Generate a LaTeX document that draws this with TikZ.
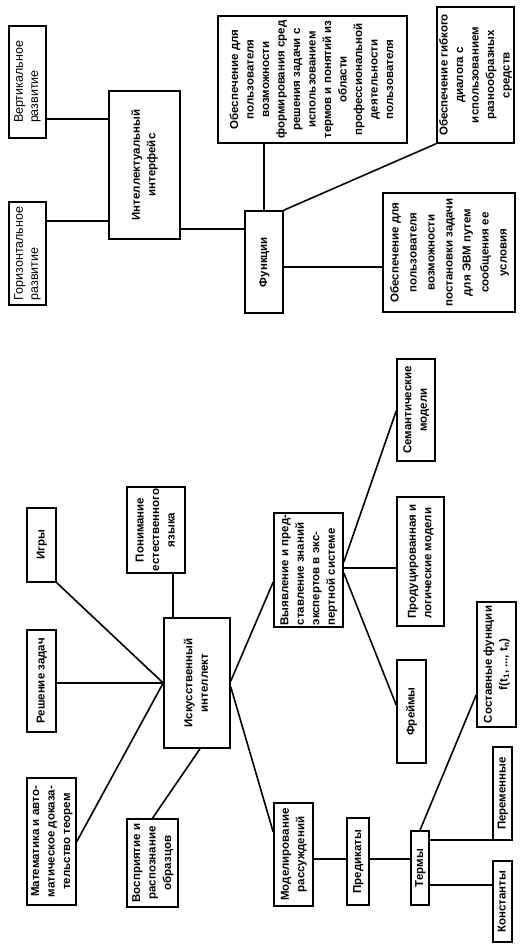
\documentclass[tikz,border=0pt]{standalone}
\usepackage{fontspec}
\setmainfont{Liberation Sans}
\usepackage{graphicx}
\newcommand\rtc[1]{\rotatebox{90}{\begin{tabular}{@{}c@{}}#1\end{tabular}}}
\newcommand\rtl[1]{\rotatebox{90}{\begin{tabular}{@{}l@{}}#1\end{tabular}}}
\tikzset{
  box/.style={draw, line width=1.6pt, inner sep=0pt, rectangle,
    font=\fontsize{11.5}{15.5}\selectfont\bfseries},
  boxn/.style={box, font=\fontsize{12.5}{15}\selectfont},
  boxw/.style={box, font=\fontsize{11.5}{18}\selectfont\bfseries},
  link/.style={line width=1.6pt}
}
\begin{document}
\begin{tikzpicture}[x=1pt,y=1pt]
\useasboundingbox (0,0) rectangle (528,-947);

% ---- Intellectual interface ----
\node[boxn, minimum width=37pt, minimum height=112pt] (vert) at (27.5,-82) {\rtl{Вертикальное\\развитие}};
\node[boxn, minimum width=37pt, minimum height=103pt] (horiz) at (27.5,-253.5) {\rtl{Горизонтальное\\развитие}};
\node[box, minimum width=71pt, minimum height=148pt] (intf) at (144.5,-165) {\rtc{Интеллектуальный\\интерфейс}};
\node[box, minimum width=38pt, minimum height=102pt] (func) at (264,-262) {\rtc{Функции}};
\node[box, minimum width=189pt, minimum height=127pt] (f1) at (312.5,-79.5) {\rtc{Обеспечение для\\пользователя\\возможности\\формирования сред\\решения задачи с\\использованием\\термов и понятий из\\области\\профессиональной\\деятельности\\пользователя}};
\node[box, minimum width=75pt, minimum height=136pt] (f2) at (475.5,-75) {\rtc{Обеспечение гибкого\\диалога с\\использованием\\разнообразных\\средств}};
\node[boxw, minimum width=132pt, minimum height=119pt] (f3) at (449,-252.5) {\rtc{Обеспечение для\\пользователя\\возможности\\постановки задачи\\для ЭВМ путем\\сообщения ее\\условия}};

% ---- Artificial intelligence ----
\node[box, minimum width=29pt, minimum height=74pt] (games) at (41.5,-545) {\rtc{Игры}};
\node[box, minimum width=58pt, minimum height=86pt] (nlu) at (156,-530) {\rtc{Понимание\\естественного\\языка}};
\node[box, minimum width=66pt, minimum height=130pt] (ai) at (197,-683) {\rtc{Искусственный\\интеллект}};
\node[box, minimum width=29pt, minimum height=102pt] (solve) at (41.5,-681) {\rtc{Решение задач}};
\node[box, minimum width=49pt, minimum height=127pt] (math) at (51.5,-841.5) {\rtc{Математика и авто-\\матическое доказа-\\тельство теорем}};
\node[box, minimum width=51pt, minimum height=88pt] (perc) at (152.5,-863) {\rtc{Восприятие и\\распознание\\образцов}};
\node[box, minimum width=69pt, minimum height=114pt] (know) at (308.5,-570) {\rtl{Выявление и пред-\\ставление знаний\\экспертов в экс-\\пертной системе}};
\node[box, minimum width=38pt, minimum height=102pt] (sem) at (416,-410) {\rtc{Семантические\\модели}};
\node[box, minimum width=47pt, minimum height=129pt] (prod) at (420.5,-561.5) {\rtl{Продуцированная и\\логические модели}};
\node[box, minimum width=29pt, minimum height=103pt] (frames) at (411.5,-711.5) {\rtc{Фреймы}};
\node[box, minimum width=39pt, minimum height=103pt] (model) at (293.5,-854.5) {\rtc{Моделирование\\рассуждений}};
\node[box, minimum width=22pt, minimum height=87pt] (pred) at (358,-861.5) {\rtc{Предикаты}};
\node[box, minimum width=18pt, minimum height=74pt] (terms) at (420,-868) {\rtc{Термы}};
\node[box, minimum width=39pt, minimum height=125pt] (comp) at (496.5,-664.5) {\rtc{Составные функции\\f(t\textsubscript{1}, ..., t\textsubscript{n})}};
\node[box, minimum width=19pt, minimum height=93pt] (vars) at (502.5,-793.5) {\rtc{Переменные}};
\node[box, minimum width=19pt, minimum height=81pt] (const) at (502.5,-901.5) {\rtc{Константы}};

% ---- helper coordinates ----
\path ([yshift=-37pt]vert.east) coordinate (cv)
      ([yshift=32.5pt]horiz.east) coordinate (ch)
      ([yshift=33pt]func.west) coordinate (cf)
      ([yshift=-5pt]func.east) coordinate (cf3)
      ([xshift=17pt]nlu.south) coordinate (cn)
      ([xshift=3pt]ai.south) coordinate (cas)
      ([yshift=2pt]ai.east) coordinate (ca1)
      ([yshift=-4pt]ai.east) coordinate (ca2)
      ([yshift=-12pt]know.west) coordinate (ck)
      ([yshift=22.5pt]model.west) coordinate (cm)
      ([yshift=8pt]know.east) coordinate (ke1)
      ([yshift=2pt]know.east) coordinate (ke2)
      ([yshift=-3pt]know.east) coordinate (ke3)
      ([yshift=-1pt]sem.west) coordinate (cs)
      ([yshift=6.5pt]frames.west) coordinate (cfr)
      ([yshift=2.5pt]pred.west) coordinate (cp)
      ([yshift=2.5pt]pred.east) coordinate (cpe)
      ([yshift=-30.5pt]comp.west) coordinate (cc)
      ([yshift=1pt]vars.south west) coordinate (cva)
      ([yshift=16.5pt]const.west) coordinate (cco);

% ---- connectors ----
\draw[link] (cv) -- (cv -| intf.west);
\draw[link] (ch) -- (ch -| intf.west);
\draw[link] (cf) -- (cf -| intf.east);
\draw[link] (func.north) -- (func.north |- f1.south);
\draw[link] (func.north east) -- (f2.south west);
\draw[link] (cf3) -- (cf3 -| f3.west);

\draw[link] (games.south east) -- (ai.west);
\draw[link] (ai.west -| solve.east) -- (ai.west);
\draw[link] (math.east) -- (ai.west);
\draw[link] (cn) -- (cn |- ai.north);
\draw[link] (perc.north) -- (cas);
\draw[link] (ca1) -- (ck);
\draw[link] (ca2) -- (cm);
\draw[link] (ke1) -- (cs);
\draw[link] (ke2) -- (ke2 -| prod.west);
\draw[link] (ke3) -- (cfr);
\draw[link] (cp -| model.east) -- (cp);
\draw[link] (cpe) -- (cpe -| terms.west);
\draw[link] (terms.north) -- (cc);
\draw[link] (cva -| terms.east) -- (cva);
\draw[link] (cco -| terms.east) -- (cco);
\end{tikzpicture}
\end{document}
